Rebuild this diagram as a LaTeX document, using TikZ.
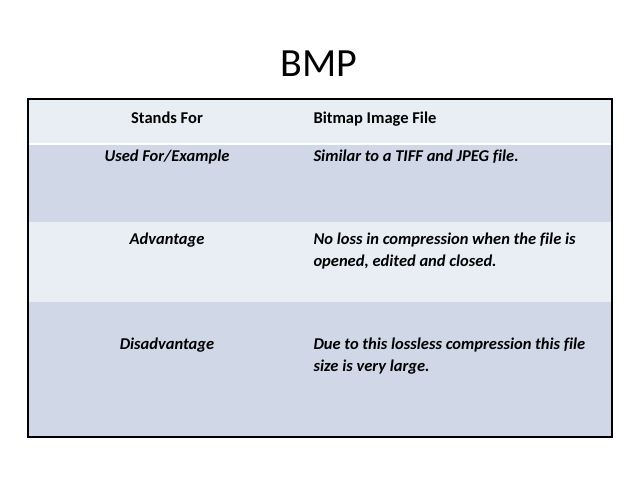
\documentclass[tikz,border=0pt]{standalone}
\usepackage{fontspec}
\setmainfont{Carlito}[Ligatures={NoCommon}]
\begin{document}
\begin{tikzpicture}[x=1pt,y=-1pt,
  lt/.style={anchor=base,font=\fontsize{16.5}{22}\selectfont\bfseries},
  rt/.style={anchor=base west,font=\fontsize{16.5}{22}\selectfont\bfseries,align=left}]
\useasboundingbox (0,0) rectangle (638,479);
\fill[fill={rgb,255:red,233;green,237;blue,244}] (28,99) rectangle (612,143);
\fill[white] (28,143) rectangle (612,145);
\fill[fill={rgb,255:red,208;green,216;blue,232}] (28,145) rectangle (612,222);
\fill[fill={rgb,255:red,233;green,237;blue,244}] (28,222) rectangle (612,302);
\fill[fill={rgb,255:red,208;green,216;blue,232}] (28,302) rectangle (612,437);
\draw[line width=2.2pt] (28,99) rectangle (612,437);
\node[anchor=base,font=\fontsize{40}{44}\selectfont] (title) at (319,76) {BMP};
\node[lt] (a1) at (167,123) {Stands For};
\node[rt] (b1) at (310,123) {Bitmap Image File};
\node[lt] (a2) at (167,161) {\itshape Used For/Example};
\node[rt] (b2) at (310,161) {\itshape Similar to a TIFF and JPEG file.};
\node[lt] (a3) at (167,244) {\itshape Advantage};
\node[rt] (b3) at (310,266) {\itshape No loss in compression when the file is\\\itshape opened, edited and closed.};
\node[lt] (a4) at (167,349) {\itshape Disadvantage};
\node[rt] (b4) at (310,371) {\itshape Due to this lossless compression this file\\\itshape size is very large.};
\end{tikzpicture}
\end{document}
